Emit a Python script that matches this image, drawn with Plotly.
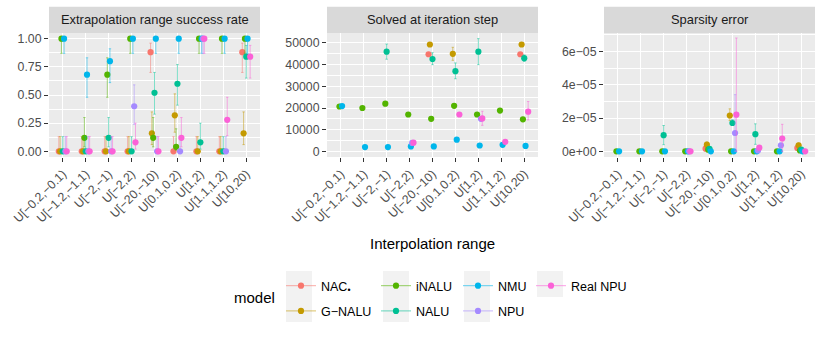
import plotly.graph_objects as go
from plotly.subplots import make_subplots

# x categories (interpolation ranges)
categories = ["U[−0.2,−0.1)", "U[−1.2,−1.1)", "U[−2,−1)", "U[−2,2)", "U[−20,−10)",
              "U[0.1,0.2)", "U[1,2)", "U[1.1,1.2)", "U[10,20)"]

models = ["NAC", "G-NALU", "iNALU", "NALU", "NMU", "NPU", "Real NPU"]
model_labels = ["NAC<sub>•</sub>", "G−NALU", "iNALU", "NALU", "NMU", "NPU", "Real NPU"]
colors = ["#F8766D", "#C49A00", "#53B400", "#00C094", "#00B6EB", "#A58AFF", "#FB61D7"]

# panel 1: extrapolation range success rate (mean, lower, upper)
success = {
    "NAC":      [0, 0, 0, 0, 0.88, 0, 0, 0, 0.88],
    "G-NALU":   [0, 0, 0, 0, 0.16, 0.32, 0, 0, 0.16],
    "iNALU":    [1, 0.12, 0.68, 1, 0.12, 0.04, 1, 1, 1],
    "NALU":     [0, 0, 0.12, 0, 0.52, 0.60, 0.08, 0, 0.84],
    "NMU":      [1, 0.68, 0.80, 1, 1, 1, 1, 1, 1],
    "NPU":      [0, 0, 0, 0.40, 0, 0, 1, 0, None],
    "Real NPU": [0, 0, 0, 0.08, 0, 0.12, 1, 0.28, 0.84],
}
success_lo = {
    "NAC":      [0, 0, 0, 0, 0.70, 0, 0, 0, 0.70],
    "G-NALU":   [0, 0, 0, 0, 0.06, 0.17, 0, 0, 0.06],
    "iNALU":    [0.87, 0.04, 0.48, 0.87, 0.04, 0.01, 0.87, 0.87, 0.87],
    "NALU":     [0, 0, 0.04, 0, 0.33, 0.41, 0.02, 0, 0.65],
    "NMU":      [0.87, 0.48, 0.61, 0.87, 0.87, 0.87, 0.87, 0.87, 0.87],
    "NPU":      [0, 0, 0, 0.24, 0, 0, 0.87, 0, None],
    "Real NPU": [0, 0, 0, 0.02, 0, 0.04, 0.87, 0.14, 0.65],
}
success_hi = {
    "NAC":      [0.13, 0.13, 0.13, 0.13, 0.96, 0.13, 0.13, 0.13, 0.96],
    "G-NALU":   [0.13, 0.13, 0.13, 0.13, 0.35, 0.51, 0.13, 0.13, 0.35],
    "iNALU":    [1, 0.30, 0.83, 1, 0.30, 0.20, 1, 1, 1],
    "NALU":     [0.13, 0.13, 0.30, 0.13, 0.70, 0.77, 0.25, 0.13, 0.94],
    "NMU":      [1, 0.83, 0.91, 1, 1, 1, 1, 1, 1],
    "NPU":      [0.13, 0.13, 0.13, 0.59, 0.13, 0.13, 1, 0.13, None],
    "Real NPU": [0.13, 0.13, 0.13, 0.25, 0.13, 0.30, 1, 0.48, 0.94],
}

# panel 2: solved at iteration step (None = no bar)
step = {
    "NAC":      [None, None, None, None, 44800, None, None, None, 44800],
    "G-NALU":   [None, None, None, None, 49300, 45000, None, None, 49300],
    "iNALU":    [20700, 20000, 22000, 17000, 15000, 21000, 17000, 18800, 14800],
    "NALU":     [None, None, 46000, None, 42600, 37000, 46000, None, 43000],
    "NMU":      [20900, 2000, 2000, 2300, 2300, 5400, 2700, 3000, 2500],
    "NPU":      [None, None, None, 3900, None, None, 15000, None, None],
    "Real NPU": [None, None, None, 4000, None, 17000, 15200, 4400, 18300],
}
step_lo = {
    "G-NALU":   [None, None, None, None, None, 42000, None, None, None],
    "NALU":     [None, None, 42500, None, 40000, 33500, 40000, None, 41500],
    "Real NPU": [None, None, None, None, None, None, 12000, None, 14500],
}
step_hi = {
    "G-NALU":   [None, None, None, None, None, 48000, None, None, None],
    "NALU":     [None, None, 49500, None, 45500, 40800, 52000, None, 44500],
    "Real NPU": [None, None, None, None, None, None, 18500, None, 23000],
}

# panel 3: sparsity error, in units of 1e-5
SCALE = 1e-5
sparsity = {
    "NAC":      [None, None, None, None, 0.16, None, None, None, 0.2],
    "G-NALU":   [None, None, None, None, 0.4, 2.15, None, None, 0.36],
    "iNALU":    [0, 0, 0, 0, 0.1, 0, 0, 0, 0.05],
    "NALU":     [None, None, 0.97, None, 0.15, 1.7, 1.03, None, 0.1],
    "NMU":      [0, 0, 0, 0, 0, 0, 0, 0, 0],
    "NPU":      [None, None, None, 0, None, 1.1, 0.05, 0.36, None],
    "Real NPU": [None, None, None, 0, None, 2.2, 0.22, 0.77, 0],
}
sparsity_lo = {
    "G-NALU":   [None, None, None, None, 0.22, 1.85, None, None, 0.22],
    "NALU":     [None, None, 0.4, None, None, 1.55, 0.42, None, None],
    "NPU":      [None, None, None, None, None, 0, None, None, None],
    "Real NPU": [None, None, None, None, None, 0, None, 0, None],
}
sparsity_hi = {
    "G-NALU":   [None, None, None, None, 0.56, 2.55, None, None, 0.5],
    "NALU":     [None, None, 1.55, None, None, 1.9, 1.65, None, None],
    "NPU":      [None, None, None, None, None, 3.4, None, None, None],
    "Real NPU": [None, None, None, None, None, 6.8, None, 1.62, None],
}

strip_titles = ["Extrapolation range success rate", "Solved at iteration step", "Sparsity error"]


def rgba(hexc, a):
    h = hexc.lstrip("#")
    return "rgba(%d,%d,%d,%.2f)" % (int(h[0:2], 16), int(h[2:4], 16), int(h[4:6], 16), a)


W, H = 830, 339
ML, MR, MT, MB = 49, 15, 33, 182
PW, PH = W - ML - MR, H - MT - MB
FONT = "Liberation Sans"

fig = make_subplots(rows=1, cols=3)

dodge = 0.4
offsets = [-dodge / 2 + (i + 0.5) * dodge / len(models) for i in range(len(models))]

panels = [
    (success, success_lo, success_hi, 1.0),
    (step, step_lo, step_hi, 1.0),
    (sparsity, sparsity_lo, sparsity_hi, SCALE),
]

for col, (mean, lo, hi, sc) in enumerate(panels, start=1):
    for i, m in enumerate(models):
        vals = mean[m]
        lows = lo.get(m, [None] * len(vals))
        highs = hi.get(m, [None] * len(vals))
        xs, ys, ep, em = [], [], [], []
        for k, v in enumerate(vals):
            if v is None:
                continue
            l = lows[k] if lows[k] is not None else v
            h = highs[k] if highs[k] is not None else v
            xs.append(k + offsets[i])
            ys.append(v * sc)
            ep.append((h - v) * sc)
            em.append((v - l) * sc)
        fig.add_trace(go.Scatter(
            x=xs, y=ys, mode="markers", showlegend=False,
            marker=dict(color=colors[i], size=6.2),
            error_y=dict(type="data", array=ep, arrayminus=em, symmetric=False,
                         color=rgba(colors[i], 0.5), thickness=1, width=1.2),
        ), row=1, col=col)

# legend-only traces, one legend per column like the ggplot guide
legend_cols = [["NAC", "G-NALU"], ["iNALU", "NALU"], ["NMU", "NPU"], ["Real NPU"]]
legend_x = [281, 376, 458, 531]
for j, group in enumerate(legend_cols):
    lname = "legend" if j == 0 else "legend%d" % (j + 1)
    for m in group:
        i = models.index(m)
        fig.add_trace(go.Scatter(
            x=[None], y=[None], mode="lines+markers", name=model_labels[i],
            legend=lname, legendgroup=m,
            marker=dict(color=colors[i], size=6.2),
            line=dict(color=rgba(colors[i], 0.5), width=1.2),
        ), row=1, col=1)

tickfont = dict(family=FONT, size=12.3, color="#4D4D4D")
domains = [(49, 260), (327, 538), (604, 815)]
for col in range(1, 4):
    d0, d1 = domains[col - 1]
    fig.update_xaxes(
        domain=[(d0 - ML) / PW, (d1 - ML) / PW], range=[-0.6, 8.6],
        tickvals=list(range(len(categories))), ticktext=categories, tickangle=-45,
        ticks="outside", ticklen=4, tickcolor="#333333", tickwidth=1,
        tickfont=tickfont, showgrid=True, gridcolor="white", gridwidth=1.1,
        zeroline=False, showline=False, automargin=False, row=1, col=col)

yopts = dict(ticks="outside", ticklen=4, tickcolor="#333333", tickwidth=1,
             tickfont=tickfont, showgrid=True, gridcolor="white", gridwidth=1.1,
             zeroline=False, showline=False, automargin=False)
fig.update_yaxes(range=[-0.05, 1.05], tickvals=[0, 0.25, 0.5, 0.75, 1.0],
                 ticktext=["0.00", "0.25", "0.50", "0.75", "1.00"],
                 minor=dict(tickvals=[0.125, 0.375, 0.625, 0.875], showgrid=True,
                            gridcolor="white", gridwidth=0.55, ticks=""),
                 row=1, col=1, **yopts)
fig.update_yaxes(range=[-2600, 54600], tickvals=[0, 10000, 20000, 30000, 40000, 50000],
                 ticktext=["0", "10000", "20000", "30000", "40000", "50000"],
                 minor=dict(tickvals=[5000, 15000, 25000, 35000, 45000], showgrid=True,
                            gridcolor="white", gridwidth=0.55, ticks=""),
                 row=1, col=2, **yopts)
fig.update_yaxes(range=[-0.34e-5, 7.1e-5], tickvals=[0, 2e-5, 4e-5, 6e-5],
                 ticktext=["0e+00", "2e−05", "4e−05", "6e−05"],
                 minor=dict(tickvals=[1e-5, 3e-5, 5e-5, 7e-5], showgrid=True,
                            gridcolor="white", gridwidth=0.55, ticks=""),
                 row=1, col=3, **yopts)

shapes = []
annotations = []
strip_h = 26.3 / PH
for col in range(1, 4):
    xr = "x domain" if col == 1 else "x%d domain" % col
    yr = "y domain" if col == 1 else "y%d domain" % col
    shapes.append(dict(type="rect", xref=xr, yref=yr, x0=0, x1=1, y0=1, y1=1 + strip_h,
                       fillcolor="#D9D9D9", line=dict(width=0)))
    annotations.append(dict(xref=xr, yref=yr, x=0.5, y=1 + strip_h / 2, showarrow=False,
                            text=strip_titles[col - 1], xanchor="center", yanchor="middle",
                            font=dict(family=FONT, size=12.9, color="#1A1A1A")))


def px_x(p):
    return (p - ML) / PW


def px_y(p):
    return (MT + PH - p) / PH


# grey key backgrounds of the legend
for (x0, x1, y0, y1) in [(286, 312, 271, 322), (383, 409, 271, 322),
                         (464, 490, 271, 322), (537, 563, 271, 297)]:
    shapes.append(dict(type="rect", xref="paper", yref="paper",
                       x0=px_x(x0), x1=px_x(x1), y0=px_y(y1), y1=px_y(y0),
                       fillcolor="#F2F2F2", line=dict(width=0), layer="below"))

annotations.append(dict(xref="paper", yref="paper", x=px_x(432), y=px_y(243), showarrow=False,
                        text="Interpolation range", xanchor="center", yanchor="middle",
                        font=dict(family=FONT, size=15, color="black")))
annotations.append(dict(xref="paper", yref="paper", x=px_x(232), y=px_y(297), showarrow=False,
                        text="model", xanchor="left", yanchor="middle",
                        font=dict(family=FONT, size=15, color="black")))

layout_legends = {}
for j in range(len(legend_cols)):
    lname = "legend" if j == 0 else "legend%d" % (j + 1)
    layout_legends[lname] = dict(
        xref="container", yref="container", x=legend_x[j] / W, y=1 - 271 / H,
        xanchor="left", yanchor="top", bgcolor="rgba(0,0,0,0)", borderwidth=0,
        font=dict(family=FONT, size=12.5, color="black"),
        tracegroupgap=6, itemwidth=30)

fig.update_layout(
    width=W, height=H, margin=dict(l=ML, r=MR, t=MT, b=MB, autoexpand=False),
    paper_bgcolor="white", plot_bgcolor="#EBEBEB",
    font=dict(family=FONT),
    shapes=shapes, annotations=annotations, **layout_legends)

fig.write_html("out.html", config={"displayModeBar": False},
               post_script="document.body.style.margin='0';")
